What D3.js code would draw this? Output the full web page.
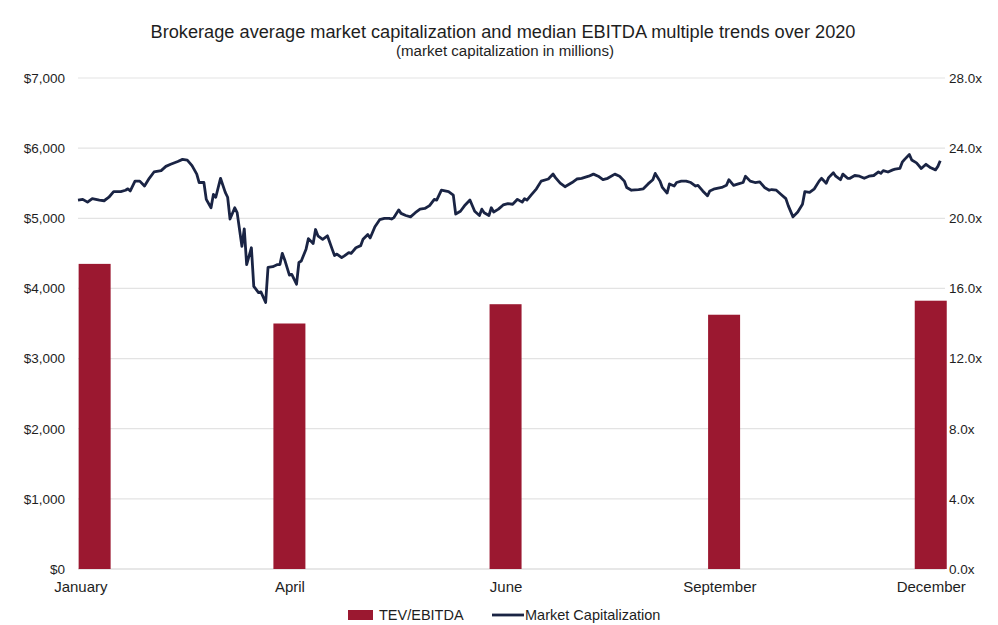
<!DOCTYPE html>
<html>
<head>
<meta charset="utf-8">
<script src="https://cdn.jsdelivr.net/npm/d3@7/dist/d3.min.js"></script>
<style>
  html, body { margin: 0; padding: 0; background: #ffffff; }
  svg { display: block; font-family: "Liberation Sans", Arial, sans-serif; }
</style>
</head>
<body>
<svg id="chart" width="998" height="625"></svg>
<script>
// ---- Data ----
const titleText = "Brokerage average market capitalization and median EBITDA multiple trends over 2020";
const subtitleText = "(market capitalization in millions)";

// TEV/EBITDA bars: category labels, day-of-year position, multiple
const barCategories = ["January", "April", "June", "September", "December"];
const barDays = [7, 89, 180, 272, 359];
const barValues = [17.4, 14.0, 15.1, 14.5, 15.3];
const labelDays = [1, 89, 180, 270, 359];

// Market capitalization line: day-of-year and value ($ millions)
const capDays = [0, 2, 4, 6, 9, 11, 13, 15, 18, 20, 21, 22, 24, 26, 28, 30, 32, 35, 37, 39, 42, 44, 46, 48, 50, 51, 53, 54, 56, 57, 58,
  60, 62, 63, 64, 66, 67, 69, 70, 71, 73, 74, 76, 77, 79, 80, 82, 84, 85, 86, 87, 89, 90, 92, 93, 94, 96, 97, 99, 100, 101, 103, 105,
  107, 108, 109, 111, 112, 114, 115, 117, 119, 120, 122, 123, 125, 127, 129, 131, 132, 133, 135, 136, 138, 140, 142, 144, 146, 148,
  150, 151, 153, 156, 158, 159, 161, 163, 165, 167, 169, 170, 171, 173, 174, 175, 177, 179, 181, 183, 185, 187, 188, 189, 191, 193,
  195, 198, 200, 201, 203, 205, 208, 210, 212, 215, 217, 219, 221, 223, 226, 228, 230, 231, 233, 236, 238, 240, 242, 243, 245, 246,
  248, 249, 251, 252, 254, 256, 258, 260, 261, 263, 265, 266, 268, 271, 273, 274, 276, 278, 280, 281, 283, 285, 287, 289, 291, 292,
  294, 296, 298, 299, 301, 303, 305, 306, 308, 310, 312, 313, 315, 316, 318, 319, 321, 322, 324, 325, 327, 329, 331, 333, 335, 337,
  338, 339, 341, 343, 344, 346, 347, 348, 350, 351, 353, 354, 355, 357, 359, 361, 362, 363];
const capValues = [5260, 5270, 5230, 5280, 5260, 5250, 5300, 5380, 5380, 5400, 5420, 5390, 5530, 5530, 5460, 5570, 5660, 5680, 5740, 5770, 5810, 5840, 5830, 5750, 5630, 5510, 5510, 5270, 5150, 5340, 5300,
  5570, 5370, 5300, 4990, 5150, 5080, 4600, 4850, 4340, 4580, 4030, 3940, 3950, 3800, 4300, 4310, 4340, 4340, 4500, 4410, 4190, 4200, 4060, 4370, 4390, 4560, 4710, 4640, 4840, 4750, 4700, 4750,
  4560, 4470, 4490, 4440, 4460, 4510, 4500, 4580, 4610, 4700, 4770, 4720, 4880, 4980, 5000, 5000, 4990, 5010, 5120, 5070, 5040, 5020, 5080, 5130, 5140, 5180,
  5270, 5260, 5400, 5380, 5330, 5060, 5100, 5190, 5260, 5100, 5040, 5130, 5080, 5040, 5150, 5090, 5130, 5190, 5210, 5200, 5270, 5230, 5280, 5260, 5340, 5420,
  5530, 5560, 5630, 5580, 5500, 5450, 5510, 5560, 5570, 5600, 5630, 5600, 5550, 5570, 5630, 5600, 5530, 5440, 5400, 5410, 5420, 5490, 5550, 5640, 5530, 5440,
  5360, 5490, 5460, 5510, 5530, 5530, 5510, 5460, 5470, 5390, 5320, 5390, 5420, 5440, 5470, 5550, 5470, 5490, 5510, 5600, 5530, 5510, 5520, 5440, 5400, 5410,
  5400, 5340, 5280, 5180, 5020, 5090, 5200, 5380, 5370, 5420, 5530, 5570, 5500, 5580, 5650, 5600, 5550, 5630, 5570, 5570, 5610, 5600, 5570, 5600, 5610, 5660,
  5640, 5680, 5660, 5690, 5700, 5710, 5800, 5840, 5910, 5830, 5790, 5750, 5710, 5770, 5720, 5690, 5740, 5820];

const leftTicks = [0, 1000, 2000, 3000, 4000, 5000, 6000, 7000];
const rightTicks = [0, 4, 8, 12, 16, 20, 24, 28];
const legendLabels = ["TEV/EBITDA", "Market Capitalization"];

// ---- Layout ----
const svg = d3.select("#chart");
const plotLeft = 78, plotRight = 945, plotTop = 78, plotBottom = 569;
const barColor = "#9b1830";
const lineColor = "#1a2444";
const textColor = "#1e1e1e";

const start = new Date(2020, 0, 1);
const toDate = d => d3.timeDay.offset(start, d);

const x = d3.scaleTime()
  .domain([start, new Date(2020, 11, 31)])
  .range([plotLeft, plotRight]);
const yLeft = d3.scaleLinear().domain([0, 7000]).range([plotBottom, plotTop]);
const yRight = d3.scaleLinear().domain([0, 28]).range([plotBottom, plotTop]);

// Title
svg.append("text")
  .attr("x", 503).attr("y", 38)
  .attr("text-anchor", "middle")
  .attr("font-size", 17.5).attr("fill", textColor)
  .attr("textLength", 705).attr("lengthAdjust", "spacingAndGlyphs")
  .text(titleText);
svg.append("text")
  .attr("x", 505).attr("y", 56)
  .attr("text-anchor", "middle")
  .attr("font-size", 14).attr("fill", textColor)
  .attr("textLength", 218).attr("lengthAdjust", "spacingAndGlyphs")
  .text(subtitleText);

// Gridlines
svg.append("g")
  .selectAll("line")
  .data(leftTicks)
  .join("line")
  .attr("x1", plotLeft).attr("x2", plotRight)
  .attr("y1", d => yLeft(d)).attr("y2", d => yLeft(d))
  .attr("stroke", d => d === 0 ? "#cfcfcf" : "#e3e3e3")
  .attr("stroke-width", 1.2);

// Left axis
const leftAxis = d3.axisLeft(yLeft)
  .tickValues(leftTicks)
  .tickSize(0)
  .tickPadding(0)
  .tickFormat(d => "$" + d3.format(",")(d));
const gl = svg.append("g").attr("transform", `translate(65,0)`).call(leftAxis);
gl.select(".domain").remove();
gl.selectAll("text").attr("font-size", 13.5).attr("fill", textColor).attr("font-family", "Liberation Sans, Arial, sans-serif");

// Right axis
const rightAxis = d3.axisRight(yRight)
  .tickValues(rightTicks)
  .tickSize(0)
  .tickPadding(0)
  .tickFormat(d => d3.format(".1f")(d) + "x");
const gr = svg.append("g").attr("transform", `translate(949,0)`).call(rightAxis);
gr.select(".domain").remove();
gr.selectAll("text").attr("font-size", 13.5).attr("fill", textColor).attr("font-family", "Liberation Sans, Arial, sans-serif");

// Bars
const barWidth = 32;
svg.append("g")
  .selectAll("rect")
  .data(barValues)
  .join("rect")
  .attr("x", (d, i) => x(toDate(barDays[i])) - barWidth / 2)
  .attr("width", barWidth)
  .attr("y", d => yRight(d))
  .attr("height", d => yRight(0) - yRight(d))
  .attr("fill", barColor);

// Line
const line = d3.line()
  .x((d, i) => x(toDate(capDays[i])))
  .y(d => yLeft(d));
svg.append("path")
  .datum(capValues)
  .attr("d", line)
  .attr("fill", "none")
  .attr("stroke", lineColor)
  .attr("stroke-width", 2.8)
  .attr("stroke-linejoin", "round");

// Bottom axis labels
const bottomAxis = d3.axisBottom(x)
  .tickValues(labelDays.map(toDate))
  .tickSize(0)
  .tickPadding(0)
  .tickFormat((d, i) => barCategories[i]);
const gb = svg.append("g").attr("transform", `translate(0,581)`).call(bottomAxis);
gb.select(".domain").remove();
gb.selectAll("text").attr("font-size", 15).attr("fill", textColor).attr("font-family", "Liberation Sans, Arial, sans-serif");

// Legend
const lg = svg.append("g");
lg.append("rect").attr("x", 348).attr("y", 610).attr("width", 25).attr("height", 10).attr("fill", barColor);
lg.append("text").attr("x", 379).attr("y", 620).attr("font-size", 14.5).attr("fill", textColor).text(legendLabels[0]);
lg.append("line").attr("x1", 492).attr("x2", 524).attr("y1", 615).attr("y2", 615)
  .attr("stroke", lineColor).attr("stroke-width", 2.8);
lg.append("text").attr("x", 525).attr("y", 620).attr("font-size", 14.5).attr("fill", textColor).text(legendLabels[1]);
</script>
</body>
</html>
